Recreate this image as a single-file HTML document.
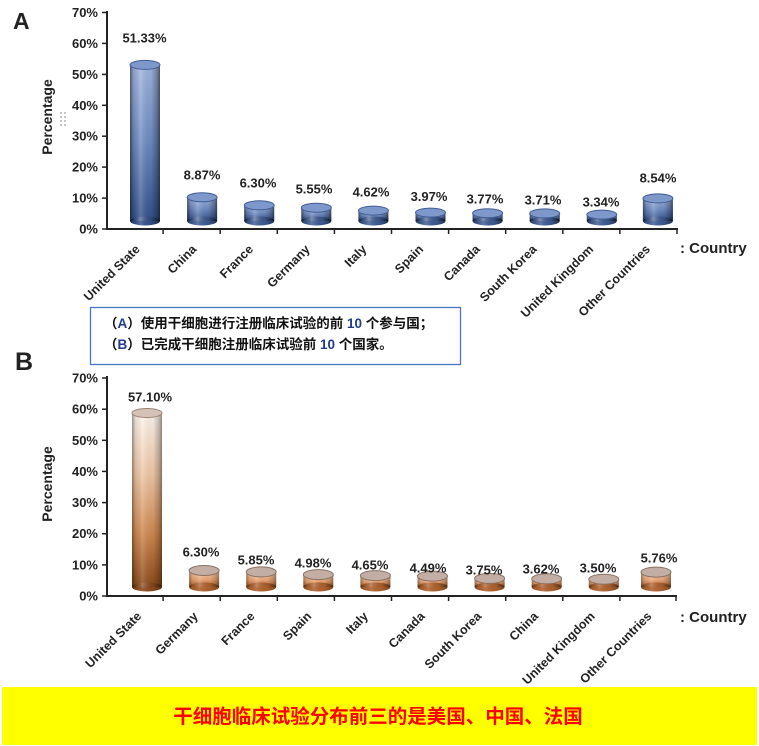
<!DOCTYPE html>
<html>
<head>
<meta charset="utf-8">
<style>
  html,body{margin:0;padding:0;background:#fff;}
  svg{display:block;}
  .t{font-family:"Liberation Sans","Noto Sans CJK SC",sans-serif;font-weight:bold;fill:#222;}
</style>
</head>
<body>
<svg width="759" height="746" viewBox="0 0 759 746" xmlns="http://www.w3.org/2000/svg">
  <defs>
    <linearGradient id="gA" x1="0" y1="0" x2="0" y2="1">
      <stop offset="0" stop-color="#a3b8e2"/>
      <stop offset="0.5" stop-color="#6f8cc4"/>
      <stop offset="1" stop-color="#34518b"/>
    </linearGradient>
    <linearGradient id="gB" x1="0" y1="0" x2="0" y2="1">
      <stop offset="0" stop-color="#fff6ef"/>
      <stop offset="0.35" stop-color="#f0c8a8"/>
      <stop offset="0.7" stop-color="#d08850"/>
      <stop offset="1" stop-color="#8c4a1c"/>
    </linearGradient>
    <linearGradient id="gBs" x1="0" y1="0" x2="0" y2="1">
      <stop offset="0" stop-color="#f6d2b6"/>
      <stop offset="0.55" stop-color="#eca474"/>
      <stop offset="1" stop-color="#b0622e"/>
    </linearGradient>
    <linearGradient id="sh" x1="0" y1="0" x2="1" y2="0">
      <stop offset="0" stop-color="#000" stop-opacity="0.5"/>
      <stop offset="0.12" stop-color="#000" stop-opacity="0.12"/>
      <stop offset="0.35" stop-color="#fff" stop-opacity="0.18"/>
      <stop offset="0.7" stop-color="#000" stop-opacity="0.05"/>
      <stop offset="0.9" stop-color="#000" stop-opacity="0.3"/>
      <stop offset="1" stop-color="#000" stop-opacity="0.55"/>
    </linearGradient>
  </defs>

  <!-- ===================== CHART A ===================== -->
  <text class="t" x="13" y="29" font-size="23" fill="#111">A</text>

  <line x1="107" y1="11" x2="107" y2="230" stroke="#222" stroke-width="2"/>
  <line x1="106" y1="229" x2="678" y2="229" stroke="#222" stroke-width="2"/>
  <g stroke="#222" stroke-width="1.5">
    <line x1="102" y1="229" x2="107" y2="229"/>
    <line x1="102" y1="198.1" x2="107" y2="198.1"/>
    <line x1="102" y1="167.1" x2="107" y2="167.1"/>
    <line x1="102" y1="136.2" x2="107" y2="136.2"/>
    <line x1="102" y1="105.3" x2="107" y2="105.3"/>
    <line x1="102" y1="74.4" x2="107" y2="74.4"/>
    <line x1="102" y1="43.4" x2="107" y2="43.4"/>
    <line x1="102" y1="12.5" x2="107" y2="12.5"/>
    <line x1="163.1" y1="229" x2="163.1" y2="234"/>
    <line x1="220.2" y1="229" x2="220.2" y2="234"/>
    <line x1="277.3" y1="229" x2="277.3" y2="234"/>
    <line x1="334.4" y1="229" x2="334.4" y2="234"/>
    <line x1="391.5" y1="229" x2="391.5" y2="234"/>
    <line x1="448.6" y1="229" x2="448.6" y2="234"/>
    <line x1="505.7" y1="229" x2="505.7" y2="234"/>
    <line x1="562.8" y1="229" x2="562.8" y2="234"/>
    <line x1="619.9" y1="229" x2="619.9" y2="234"/>
    <line x1="677" y1="229" x2="677" y2="234"/>
  </g>
  <g class="t" font-size="13" text-anchor="end">
    <text x="98" y="233.5">0%</text>
    <text x="98" y="202.6">10%</text>
    <text x="98" y="171.6">20%</text>
    <text x="98" y="140.7">30%</text>
    <text x="98" y="109.8">40%</text>
    <text x="98" y="78.9">50%</text>
    <text x="98" y="47.9">60%</text>
    <text x="98" y="17">70%</text>
  </g>
  <text class="t" font-size="14" text-anchor="middle" transform="translate(52,117) rotate(-90)">Percentage</text>
  <g fill="#999">
    <circle cx="61" cy="113" r="0.9"/><circle cx="65" cy="113" r="0.9"/>
    <circle cx="61" cy="117" r="0.9"/><circle cx="65" cy="117" r="0.9"/>
    <circle cx="61" cy="121" r="0.9"/><circle cx="65" cy="121" r="0.9"/>
    <circle cx="61" cy="125" r="0.9"/><circle cx="65" cy="125" r="0.9"/>
  </g>

  <!-- bars A -->
  <g>
    <rect x="130" y="64.9" width="30" height="156.1" fill="url(#gA)"/>
    <ellipse cx="145" cy="221" rx="15" ry="4.5" fill="#34518b"/>
    <rect x="130" y="64.9" width="30" height="156.1" fill="url(#sh)"/>
    <ellipse cx="145" cy="221" rx="15" ry="4.5" fill="url(#sh)"/>
    <ellipse cx="145" cy="64.9" rx="15" ry="4.5" fill="#7f98cb" stroke="#405d95" stroke-width="1"/>

    <rect x="187.1" y="197.3" width="30" height="23.7" fill="url(#gA)"/>
    <ellipse cx="202.1" cy="221" rx="15" ry="4.5" fill="#3f5c95"/>
    <rect x="187.1" y="197.3" width="30" height="23.7" fill="url(#sh)"/>
    <ellipse cx="202.1" cy="221" rx="15" ry="4.5" fill="url(#sh)"/>
    <ellipse cx="202.1" cy="197.3" rx="15" ry="4.5" fill="#7f98cb" stroke="#405d95" stroke-width="1"/>

    <rect x="244.2" y="205.3" width="30" height="15.7" fill="url(#gA)"/>
    <ellipse cx="259.2" cy="221" rx="15" ry="4.5" fill="#3f5c95"/>
    <rect x="244.2" y="205.3" width="30" height="15.7" fill="url(#sh)"/>
    <ellipse cx="259.2" cy="221" rx="15" ry="4.5" fill="url(#sh)"/>
    <ellipse cx="259.2" cy="205.3" rx="15" ry="4.5" fill="#7f98cb" stroke="#405d95" stroke-width="1"/>

    <rect x="301.3" y="207.7" width="30" height="13.3" fill="url(#gA)"/>
    <ellipse cx="316.3" cy="221" rx="15" ry="4.5" fill="#3f5c95"/>
    <rect x="301.3" y="207.7" width="30" height="13.3" fill="url(#sh)"/>
    <ellipse cx="316.3" cy="221" rx="15" ry="4.5" fill="url(#sh)"/>
    <ellipse cx="316.3" cy="207.7" rx="15" ry="4.5" fill="#7f98cb" stroke="#405d95" stroke-width="1"/>

    <rect x="358.4" y="210.6" width="30" height="10.4" fill="url(#gA)"/>
    <ellipse cx="373.4" cy="221" rx="15" ry="4.5" fill="#3f5c95"/>
    <rect x="358.4" y="210.6" width="30" height="10.4" fill="url(#sh)"/>
    <ellipse cx="373.4" cy="221" rx="15" ry="4.5" fill="url(#sh)"/>
    <ellipse cx="373.4" cy="210.6" rx="15" ry="4.5" fill="#7f98cb" stroke="#405d95" stroke-width="1"/>

    <rect x="415.5" y="212.6" width="30" height="8.4" fill="url(#gA)"/>
    <ellipse cx="430.5" cy="221" rx="15" ry="4.5" fill="#3f5c95"/>
    <rect x="415.5" y="212.6" width="30" height="8.4" fill="url(#sh)"/>
    <ellipse cx="430.5" cy="221" rx="15" ry="4.5" fill="url(#sh)"/>
    <ellipse cx="430.5" cy="212.6" rx="15" ry="4.5" fill="#7f98cb" stroke="#405d95" stroke-width="1"/>

    <rect x="472.6" y="213.2" width="30" height="7.8" fill="url(#gA)"/>
    <ellipse cx="487.6" cy="221" rx="15" ry="4.5" fill="#3f5c95"/>
    <rect x="472.6" y="213.2" width="30" height="7.8" fill="url(#sh)"/>
    <ellipse cx="487.6" cy="221" rx="15" ry="4.5" fill="url(#sh)"/>
    <ellipse cx="487.6" cy="213.2" rx="15" ry="4.5" fill="#7f98cb" stroke="#405d95" stroke-width="1"/>

    <rect x="529.7" y="213.4" width="30" height="7.6" fill="url(#gA)"/>
    <ellipse cx="544.7" cy="221" rx="15" ry="4.5" fill="#3f5c95"/>
    <rect x="529.7" y="213.4" width="30" height="7.6" fill="url(#sh)"/>
    <ellipse cx="544.7" cy="221" rx="15" ry="4.5" fill="url(#sh)"/>
    <ellipse cx="544.7" cy="213.4" rx="15" ry="4.5" fill="#7f98cb" stroke="#405d95" stroke-width="1"/>

    <rect x="586.8" y="214.6" width="30" height="6.4" fill="url(#gA)"/>
    <ellipse cx="601.8" cy="221" rx="15" ry="4.5" fill="#3f5c95"/>
    <rect x="586.8" y="214.6" width="30" height="6.4" fill="url(#sh)"/>
    <ellipse cx="601.8" cy="221" rx="15" ry="4.5" fill="url(#sh)"/>
    <ellipse cx="601.8" cy="214.6" rx="15" ry="4.5" fill="#7f98cb" stroke="#405d95" stroke-width="1"/>

    <rect x="642.9" y="198.4" width="30" height="22.6" fill="url(#gA)"/>
    <ellipse cx="657.9" cy="221" rx="15" ry="4.5" fill="#3f5c95"/>
    <rect x="642.9" y="198.4" width="30" height="22.6" fill="url(#sh)"/>
    <ellipse cx="657.9" cy="221" rx="15" ry="4.5" fill="url(#sh)"/>
    <ellipse cx="657.9" cy="198.4" rx="15" ry="4.5" fill="#7f98cb" stroke="#405d95" stroke-width="1"/>
  </g>

  <g class="t" font-size="13" text-anchor="middle">
    <text x="144.5" y="42.5">51.33%</text>
    <text x="202" y="179.5">8.87%</text>
    <text x="258" y="187.5">6.30%</text>
    <text x="314" y="193.5">5.55%</text>
    <text x="371" y="196.5">4.62%</text>
    <text x="429" y="201">3.97%</text>
    <text x="485" y="203.5">3.77%</text>
    <text x="543" y="204.5">3.71%</text>
    <text x="601" y="206.5">3.34%</text>
    <text x="658" y="182.5">8.54%</text>
  </g>

  <g class="t" font-size="12.5" text-anchor="end">
    <text transform="translate(140.5,250) rotate(-45)">United State</text>
    <text transform="translate(197.2,250) rotate(-45)">China</text>
    <text transform="translate(253.9,250) rotate(-45)">France</text>
    <text transform="translate(310.6,250) rotate(-45)">Germany</text>
    <text transform="translate(367.3,250) rotate(-45)">Italy</text>
    <text transform="translate(424,250) rotate(-45)">Spain</text>
    <text transform="translate(480.7,250) rotate(-45)">Canada</text>
    <text transform="translate(537.4,250) rotate(-45)">South Korea</text>
    <text transform="translate(594.1,250) rotate(-45)">United Kingdom</text>
    <text transform="translate(650.8,250) rotate(-45)">Other Countries</text>
  </g>
  <text class="t" x="680" y="253" font-size="15">: Country</text>

  <!-- text box -->
  <rect x="90.5" y="307.5" width="370" height="57" fill="#fff" stroke="#4a74c4" stroke-width="1.3"/>
  <g font-family="'Liberation Sans','Noto Sans CJK SC',sans-serif" font-weight="bold" font-size="13.5" fill="#111">
    <text x="104" y="328">（<tspan fill="#1f3c88">A</tspan>）使用干细胞进行注册临床试验的前 <tspan fill="#1f3c88">10</tspan> 个参与国；</text>
    <text x="104" y="349">（<tspan fill="#1f3c88">B</tspan>）已完成干细胞注册临床试验前 <tspan fill="#1f3c88">10</tspan> 个国家。</text>
  </g>

  <!-- ===================== CHART B ===================== -->
  <text class="t" x="15" y="370" font-size="25" fill="#111">B</text>

  <line x1="107" y1="376" x2="107" y2="597" stroke="#222" stroke-width="2"/>
  <line x1="106" y1="596" x2="677" y2="596" stroke="#222" stroke-width="2"/>
  <g stroke="#222" stroke-width="1.5">
    <line x1="102" y1="596" x2="107" y2="596"/>
    <line x1="102" y1="564.9" x2="107" y2="564.9"/>
    <line x1="102" y1="533.7" x2="107" y2="533.7"/>
    <line x1="102" y1="502.6" x2="107" y2="502.6"/>
    <line x1="102" y1="471.4" x2="107" y2="471.4"/>
    <line x1="102" y1="440.3" x2="107" y2="440.3"/>
    <line x1="102" y1="409.2" x2="107" y2="409.2"/>
    <line x1="102" y1="378" x2="107" y2="378"/>
    <line x1="163.1" y1="596" x2="163.1" y2="601"/>
    <line x1="220.2" y1="596" x2="220.2" y2="601"/>
    <line x1="277.3" y1="596" x2="277.3" y2="601"/>
    <line x1="334.4" y1="596" x2="334.4" y2="601"/>
    <line x1="391.5" y1="596" x2="391.5" y2="601"/>
    <line x1="448.6" y1="596" x2="448.6" y2="601"/>
    <line x1="505.7" y1="596" x2="505.7" y2="601"/>
    <line x1="562.8" y1="596" x2="562.8" y2="601"/>
    <line x1="619.9" y1="596" x2="619.9" y2="601"/>
    <line x1="676" y1="596" x2="676" y2="601"/>
  </g>
  <g class="t" font-size="13" text-anchor="end">
    <text x="98" y="600.5">0%</text>
    <text x="98" y="569.4">10%</text>
    <text x="98" y="538.2">20%</text>
    <text x="98" y="507.1">30%</text>
    <text x="98" y="475.9">40%</text>
    <text x="98" y="444.8">50%</text>
    <text x="98" y="413.7">60%</text>
    <text x="98" y="382.5">70%</text>
  </g>
  <text class="t" font-size="14" text-anchor="middle" transform="translate(52,484) rotate(-90)">Percentage</text>

  <!-- bars B -->
  <g>
    <rect x="132" y="413" width="30" height="174" fill="url(#gB)"/>
    <ellipse cx="147" cy="587" rx="15" ry="4.5" fill="#8c4a1c"/>
    <rect x="132" y="413" width="30" height="174" fill="url(#sh)" opacity="0.8"/>
    <ellipse cx="147" cy="587" rx="15" ry="4.5" fill="url(#sh)" opacity="0.8"/>
    <ellipse cx="147" cy="413" rx="15" ry="4.5" fill="#d4c2b8" stroke="#9a8070" stroke-width="1"/>
  </g>
  <g>
    <rect x="189.1" y="570.5" width="30" height="16.5" fill="url(#gBs)"/>
    <ellipse cx="204.1" cy="587" rx="15" ry="4.5" fill="#b0622e"/>
    <rect x="189.1" y="570.5" width="30" height="16.5" fill="url(#sh)" opacity="0.7"/>
    <ellipse cx="204.1" cy="587" rx="15" ry="4.5" fill="url(#sh)" opacity="0.7"/>
    <ellipse cx="204.1" cy="570.5" rx="15" ry="5" fill="#c2aea4" stroke="#8a7060" stroke-width="1"/>

    <rect x="246.2" y="571.9" width="30" height="15.1" fill="url(#gBs)"/>
    <ellipse cx="261.2" cy="587" rx="15" ry="4.5" fill="#b0622e"/>
    <rect x="246.2" y="571.9" width="30" height="15.1" fill="url(#sh)" opacity="0.7"/>
    <ellipse cx="261.2" cy="587" rx="15" ry="4.5" fill="url(#sh)" opacity="0.7"/>
    <ellipse cx="261.2" cy="571.9" rx="15" ry="5" fill="#c2aea4" stroke="#8a7060" stroke-width="1"/>

    <rect x="303.3" y="574.6" width="30" height="12.4" fill="url(#gBs)"/>
    <ellipse cx="318.3" cy="587" rx="15" ry="4.5" fill="#b0622e"/>
    <rect x="303.3" y="574.6" width="30" height="12.4" fill="url(#sh)" opacity="0.7"/>
    <ellipse cx="318.3" cy="587" rx="15" ry="4.5" fill="url(#sh)" opacity="0.7"/>
    <ellipse cx="318.3" cy="574.6" rx="15" ry="5" fill="#c2aea4" stroke="#8a7060" stroke-width="1"/>

    <rect x="360.4" y="575.6" width="30" height="11.4" fill="url(#gBs)"/>
    <ellipse cx="375.4" cy="587" rx="15" ry="4.5" fill="#b0622e"/>
    <rect x="360.4" y="575.6" width="30" height="11.4" fill="url(#sh)" opacity="0.7"/>
    <ellipse cx="375.4" cy="587" rx="15" ry="4.5" fill="url(#sh)" opacity="0.7"/>
    <ellipse cx="375.4" cy="575.6" rx="15" ry="5" fill="#c2aea4" stroke="#8a7060" stroke-width="1"/>

    <rect x="417.5" y="576.1" width="30" height="10.9" fill="url(#gBs)"/>
    <ellipse cx="432.5" cy="587" rx="15" ry="4.5" fill="#b0622e"/>
    <rect x="417.5" y="576.1" width="30" height="10.9" fill="url(#sh)" opacity="0.7"/>
    <ellipse cx="432.5" cy="587" rx="15" ry="4.5" fill="url(#sh)" opacity="0.7"/>
    <ellipse cx="432.5" cy="576.1" rx="15" ry="5" fill="#c2aea4" stroke="#8a7060" stroke-width="1"/>

    <rect x="474.6" y="578.4" width="30" height="8.6" fill="url(#gBs)"/>
    <ellipse cx="489.6" cy="587" rx="15" ry="4.5" fill="#b0622e"/>
    <rect x="474.6" y="578.4" width="30" height="8.6" fill="url(#sh)" opacity="0.7"/>
    <ellipse cx="489.6" cy="587" rx="15" ry="4.5" fill="url(#sh)" opacity="0.7"/>
    <ellipse cx="489.6" cy="578.4" rx="15" ry="5" fill="#c2aea4" stroke="#8a7060" stroke-width="1"/>

    <rect x="531.7" y="578.8" width="30" height="8.2" fill="url(#gBs)"/>
    <ellipse cx="546.7" cy="587" rx="15" ry="4.5" fill="#b0622e"/>
    <rect x="531.7" y="578.8" width="30" height="8.2" fill="url(#sh)" opacity="0.7"/>
    <ellipse cx="546.7" cy="587" rx="15" ry="4.5" fill="url(#sh)" opacity="0.7"/>
    <ellipse cx="546.7" cy="578.8" rx="15" ry="5" fill="#c2aea4" stroke="#8a7060" stroke-width="1"/>

    <rect x="588.8" y="579.2" width="30" height="7.8" fill="url(#gBs)"/>
    <ellipse cx="603.8" cy="587" rx="15" ry="4.5" fill="#b0622e"/>
    <rect x="588.8" y="579.2" width="30" height="7.8" fill="url(#sh)" opacity="0.7"/>
    <ellipse cx="603.8" cy="587" rx="15" ry="4.5" fill="url(#sh)" opacity="0.7"/>
    <ellipse cx="603.8" cy="579.2" rx="15" ry="5" fill="#c2aea4" stroke="#8a7060" stroke-width="1"/>

    <rect x="641" y="572.1" width="30" height="14.9" fill="url(#gBs)"/>
    <ellipse cx="656" cy="587" rx="15" ry="4.5" fill="#b0622e"/>
    <rect x="641" y="572.1" width="30" height="14.9" fill="url(#sh)" opacity="0.7"/>
    <ellipse cx="656" cy="587" rx="15" ry="4.5" fill="url(#sh)" opacity="0.7"/>
    <ellipse cx="656" cy="572.1" rx="15" ry="5" fill="#c2aea4" stroke="#8a7060" stroke-width="1"/>
  </g>

  <g class="t" font-size="13" text-anchor="middle">
    <text x="150" y="401.5">57.10%</text>
    <text x="201" y="556.5">6.30%</text>
    <text x="256" y="564.5">5.85%</text>
    <text x="313" y="567.5">4.98%</text>
    <text x="370" y="569.5">4.65%</text>
    <text x="428" y="572.5">4.49%</text>
    <text x="484" y="574.5">3.75%</text>
    <text x="541" y="573.5">3.62%</text>
    <text x="598" y="572.5">3.50%</text>
    <text x="659" y="562.5">5.76%</text>
  </g>

  <g class="t" font-size="12.5" text-anchor="end">
    <text transform="translate(142,617) rotate(-45)">United State</text>
    <text transform="translate(198.7,617) rotate(-45)">Germany</text>
    <text transform="translate(255.4,617) rotate(-45)">France</text>
    <text transform="translate(312.1,617) rotate(-45)">Spain</text>
    <text transform="translate(368.8,617) rotate(-45)">Italy</text>
    <text transform="translate(425.5,617) rotate(-45)">Canada</text>
    <text transform="translate(482.2,617) rotate(-45)">South Korea</text>
    <text transform="translate(538.9,617) rotate(-45)">China</text>
    <text transform="translate(595.6,617) rotate(-45)">United Kingdom</text>
    <text transform="translate(652.3,617) rotate(-45)">Other Countries</text>
  </g>
  <text class="t" x="680" y="622" font-size="15">: Country</text>

  <!-- bottom banner -->
  <rect x="2" y="687" width="755" height="58" fill="#ffff00"/>
  <text x="378" y="723" font-family="'Liberation Sans','Noto Sans CJK SC',sans-serif" font-weight="bold" font-size="19.5" fill="#ff0000" text-anchor="middle">干细胞临床试验分布前三的是美国、中国、法国</text>
</svg>
</body>
</html>
